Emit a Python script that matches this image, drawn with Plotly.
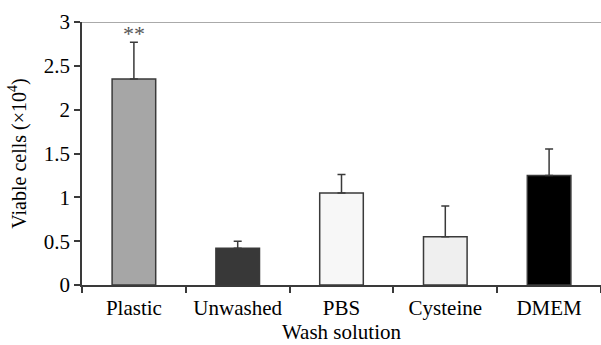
import plotly.graph_objects as go

categories = ["Plastic", "Unwashed", "PBS", "Cysteine", "DMEM"]
values = [2.35, 0.42, 1.05, 0.55, 1.25]
errors = [0.42, 0.08, 0.21, 0.35, 0.30]
colors = ["#a6a6a6", "#383838", "#f7f7f7", "#efefef", "#000000"]

font = "Liberation Serif, Times New Roman, serif"

fig = go.Figure()
fig.add_trace(go.Bar(
    x=categories, y=values,
    marker=dict(color=colors, line=dict(color="#3a3a3a", width=1.5)),
    width=0.42,
    error_y=dict(type="data", array=errors, symmetric=False, arrayminus=[0]*5,
                 color="#3a3a3a", thickness=1.5, width=4),
))

fig.add_annotation(x=categories[0], y=values[0] + errors[0], text="**",
                   showarrow=False, yshift=9, font=dict(family=font, size=22, color="#555"))

fig.add_shape(type="line", xref="paper", yref="y", x0=0, x1=1, y0=3, y1=3,
              line=dict(color="#aaaaaa", width=2))

fig.update_layout(
    width=601, height=345,
    margin=dict(l=82, r=0, t=22, b=60),
    paper_bgcolor="white", plot_bgcolor="white",
    font=dict(family=font, size=21, color="black"),
    showlegend=False,
    xaxis=dict(
        range=[-0.5, 4.5], tickson="boundaries", ticks="outside", ticklen=6,
        tickcolor="#3a3a3a", tickwidth=1.5, ticklabelstandoff=3,
        showline=True, linecolor="#3a3a3a", linewidth=1.5,
        showgrid=False, zeroline=False,
        title=dict(text="Wash solution", standoff=4, font=dict(size=21)),
        tickfont=dict(size=21),
    ),
    yaxis=dict(
        range=[0, 3], dtick=0.5, ticks="outside", ticklen=6,
        tickcolor="#3a3a3a", tickwidth=1.5,
        showline=True, linecolor="#3a3a3a", linewidth=1.5,
        showgrid=False, zeroline=False,
        title=dict(text="Viable cells (×10<sup>4</sup>)", standoff=12, font=dict(size=20)),
        tickfont=dict(size=21),
    ),
)

fig.write_html("out.html")
